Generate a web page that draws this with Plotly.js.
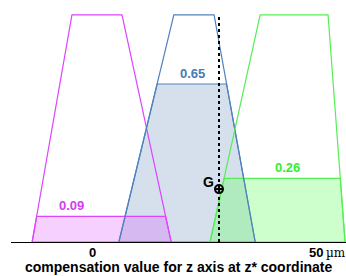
<!DOCTYPE html>
<html>
<head>
<meta charset="utf-8">
<script src="https://cdn.plot.ly/plotly-3.0.1.min.js"></script>
<style>html,body{margin:0;padding:0;background:#fff}#chart{width:346px;height:276px}</style>
</head>
<body>
<div id="chart"></div>
<script>
// Trapezoidal membership functions: [bottom-left, top-left, top-right, bottom-right] (µm)
var setNames = ["negative", "zero", "positive"];
var magentaSet = [-13.5, -4.6, 6.6, 17.6];
var blueSet = [5.9, 18.2, 27.2, 36.4];
var greenSet = [26.3, 37.5, 52.7, 56.5];
var peak = 0.927;
// activation levels drawn in the picture and their printed labels
var levels = [0.105, 0.645, 0.26];
var levelLabels = ["0.09", "0.65", "0.26"];
// result
var zStar = 28.3;
var centroidY = 0.216;
var tickVals = [0, 50];
var tickText = ["0", "50"];
var axisTitle = "compensation value for z axis at z* coordinate";

var lineColors = ["#dd44ff", "#4f82bb", "#55ee55"];
var fillColors = ["rgba(221,68,255,0.25)", "rgb(214,224,236)", "rgba(100,255,100,0.33)"];
var textColors = ["#d040f0", "#4a7ab5", "#33ee33"];
var sets = [magentaSet, blueSet, greenSet];
var FONT = "Liberation Sans, Arial, sans-serif";

function clipped(s, L) {
  var xl = s[0] + (s[1] - s[0]) * L / peak;
  var xr = s[3] - (s[3] - s[2]) * L / peak;
  return {x: [s[0], xl, xr, s[3], s[0]], y: [0, L, L, 0, 0]};
}

var traces = [];
[1, 0, 2].forEach(function (i) {
  var p = clipped(sets[i], levels[i]);
  traces.push({type: "scatter", mode: "lines", x: p.x, y: p.y, fill: "toself",
    fillcolor: fillColors[i], line: {color: lineColors[i], width: 1.2}, hoverinfo: "skip", name: setNames[i]});
});
[0, 1, 2].forEach(function (i) {
  var s = sets[i];
  traces.push({type: "scatter", mode: "lines", x: s, y: [0, peak, peak, 0],
    line: {color: lineColors[i], width: 1.2}, hoverinfo: "skip", name: setNames[i]});
});
traces.push({type: "scatter", mode: "lines", x: [zStar, zStar], y: [0, peak],
  line: {color: "#000", width: 2, dash: "dot"}, hoverinfo: "skip"});
traces.push({type: "scatter", mode: "markers", x: [zStar], y: [centroidY],
  marker: {symbol: "circle-cross-open", size: 8, color: "#000", line: {width: 2, color: "#000"}},
  cliponaxis: false, hoverinfo: "skip"});

var labelX = [-4.8, 22.3, 43.7];
var annotations = [0, 1, 2].map(function (i) {
  return {xref: "x", yref: "y", x: labelX[i], y: levels[i], text: levelLabels[i],
    showarrow: false, yanchor: "bottom", yshift: 1,
    font: {family: FONT, size: 13, color: textColors[i], weight: "bold"}};
});
annotations.push({xref: "x", yref: "y", x: zStar, y: centroidY, text: "G",
  showarrow: false, xanchor: "right", yanchor: "middle", xshift: -3, yshift: 7,
  font: {family: FONT, size: 14, color: "#000", weight: "bold"}});
tickVals.forEach(function (v, i) {
  annotations.push({xref: "x", yref: "paper", x: v, y: 0, text: tickText[i],
    showarrow: false, xanchor: "center", yanchor: "top", yshift: -1,
    font: {family: FONT, size: 13, color: "#000", weight: "bold"}});
});
annotations.push({xref: "x", yref: "paper", x: tickVals[1], y: 0, text: "µm",
  showarrow: false, xanchor: "left", yanchor: "top", xshift: 8, yshift: -2,
  font: {family: "DejaVu Serif, serif", size: 12, color: "#000"}});
annotations.push({xref: "paper", yref: "paper", x: 0.5, y: 0, text: axisTitle,
  showarrow: false, xanchor: "center", yanchor: "bottom", yshift: -35,
  font: {family: FONT, size: 14, color: "#000", weight: "bold"}});

var layout = {
  width: 346, height: 276,
  margin: {l: 11, r: 0, t: 0, b: 34},
  paper_bgcolor: "#fff", plot_bgcolor: "#fff",
  showlegend: false,
  xaxis: {range: [-18.23, 56.71], showticklabels: false,
    showgrid: false, zeroline: false, showline: true, linecolor: "#000", linewidth: 1,
    ticks: "", fixedrange: true},
  yaxis: {range: [0, 0.988], visible: false, fixedrange: true},
  annotations: annotations
};
Plotly.newPlot("chart", traces, layout, {staticPlot: true, displayModeBar: false});
</script>
</body>
</html>
